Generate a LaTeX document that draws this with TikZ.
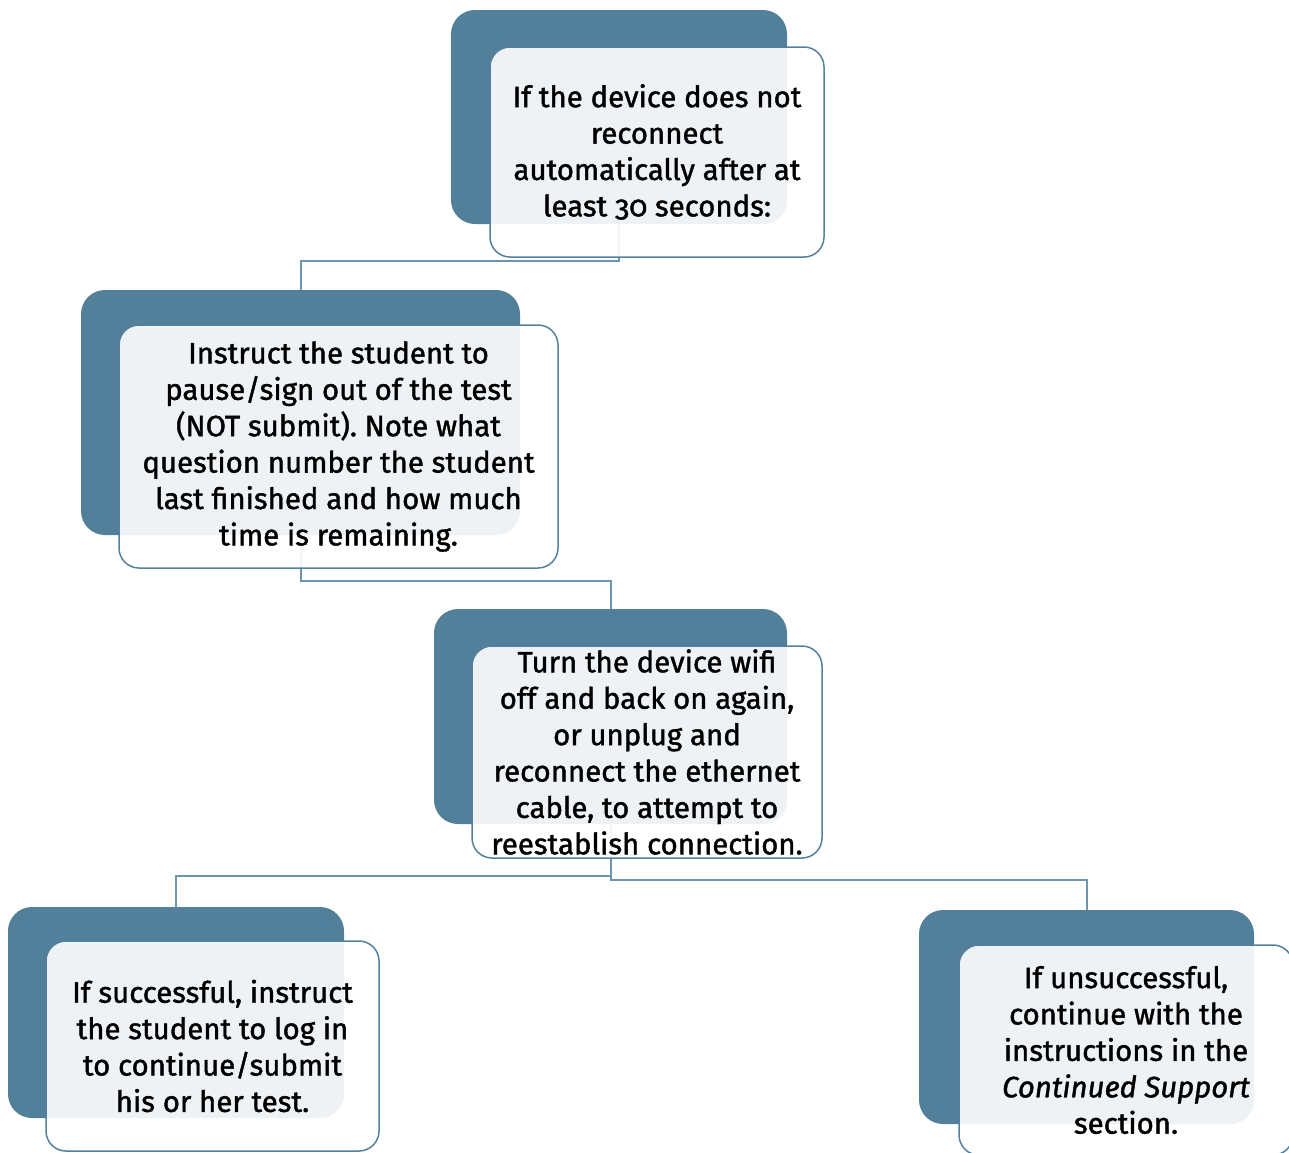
\documentclass[tikz,border=0pt]{standalone}
\usepackage{fontspec}
\setmainfont{Fira Sans}[Numbers=OldStyle, FakeBold=1.4]
\usetikzlibrary{positioning,calc}
\definecolor{flowBack}{RGB}{82,127,153}
\definecolor{flowEdge}{RGB}{84,128,160}
\definecolor{flowLink}{RGB}{110,149,176}
\frenchspacing

\begin{document}
\begin{tikzpicture}[
        x=0.5pt, y=-0.5pt,
        back/.style={fill=flowBack, rounded corners=12pt, inner sep=0pt},
        front/.style={draw=flowEdge, line width=0.75pt, fill=white, fill opacity=0.9, text opacity=1,
          rounded corners=10pt, align=center, inner sep=0pt,
          font=\fontsize{14.7}{18.2}\selectfont},
        link/.style={draw=flowLink, line width=1pt}
      ]
        \useasboundingbox (0,0) rectangle (1289,1152);
        % dark back plates
        \node[back, minimum width=168pt, minimum height=107pt] (b1) at (619,117) {};
        \node[back, minimum width=219.5pt, minimum height=122.5pt] (b2) at (300.5,412.5) {};
        \node[back, minimum width=176.5pt, minimum height=107.5pt] (b3) at (610.5,716.5) {};
        \node[back, minimum width=168pt, minimum height=105.5pt] (b4) at (176,1012.5) {};
        \node[back, minimum width=167.5pt, minimum height=107pt] (b5) at (1086.5,1017) {};
        % connectors
        \draw[link] (b1.south) -- ++(0,37) -| (b2.north);
        \draw[link] (b2.south) -- ++(0,46) -| (b3.north);
        \draw[link] (b3.south) -- ++(0,52) -| (b4.north);
        \draw[link] (b3.south) -- ++(0,56) -| (b5.north);
        % text boxes
        \node[front, minimum width=167pt, minimum height=105pt] (f1) at (657,152)
          {If the device does not\\reconnect\\automatically after at\\least 30 seconds:};
        \node[front, minimum width=219.5pt, minimum height=121.5pt] (f2) at (338.5,446.5)
          {Instruct the student to\\pause/sign out of the test\\(NOT submit). Note what\\question number the student\\last finished and how much\\time is remaining.};
        \node[front, minimum width=175pt, minimum height=106pt] (f3) at (647,752)
          {Turn the device wifi\\off and back on again,\\or unplug and\\reconnect the ethernet\\cable, to attempt to\\reestablish connection.};
        \node[front, minimum width=166.5pt, minimum height=105pt] (f4) at (212.5,1046)
          {If successful, instruct\\the student to log in\\to continue/submit\\his or her test.};
        \node[front, minimum width=167pt, minimum height=105pt] (f5) at (1126,1050)
          {If unsuccessful,\\continue with the\\instructions in the\\\textit{Continued Support}\\section.};
      \end{tikzpicture}
\end{document}
